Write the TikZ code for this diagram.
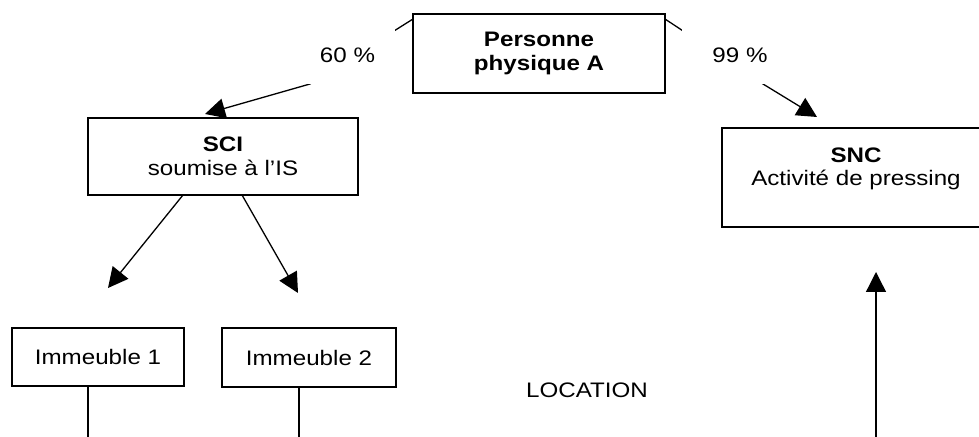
\documentclass[tikz,border=0pt]{standalone}
\usepackage{fontspec}
\setmainfont{Liberation Sans}[FakeStretch=1.15]
\usetikzlibrary{arrows.meta,positioning,calc}
\definecolor{LineColor}{HTML}{000000}

\begin{document}
\begin{tikzpicture}[x=0.5pt,y=-0.5pt,
    every node/.style={font=\fontsize{10.5}{11.8}\selectfont,inner sep=0pt,outer sep=0pt},
    boxthick/.style={rectangle,draw=LineColor,line width=1.35pt,align=center},
    boxthin/.style={rectangle,draw=LineColor,line width=0.65pt,align=center},
    pct/.style={rectangle,fill=white,minimum height=29pt},
    arr/.style={-{Triangle[length=10pt,width=10pt]},line width=0.65pt,LineColor},
    plain/.style={line width=0.65pt,LineColor}]
  \useasboundingbox (0,0) rectangle (979,437);
  \clip (0,0) rectangle (979,437);
        \node[boxthick,minimum width=126pt,minimum height=39.5pt] (pers) at (539,53.5)
          {\textbf{Personne}\\\textbf{physique A}};
        \node[boxthick,minimum width=135pt,minimum height=38.5pt] (sci) at (223,156.5)
          {\textbf{SCI}\\soumise à l’IS};
        \node[boxthick,minimum width=134pt,minimum height=49.5pt,text depth=11pt] (snc) at (856,177.5)
          {\textbf{SNC}\\Activité de pressing};
        \node[boxthin,minimum width=86pt,minimum height=29pt] (imm1) at (98,357)
          {Immeuble 1};
        \node[boxthin,minimum width=87pt,minimum height=29.5pt] (imm2) at (309,357.5)
          {Immeuble 2};
        \node (loc) at (587,390) {LOCATION};
        \coordinate (bendL) at (310,84);
        \coordinate (tipL) at (205,114);
        \coordinate (bendR) at (763,84);
        \coordinate (tipR) at (817,117);
        \coordinate (tip1) at (108,288);
        \coordinate (tip2) at (298,293);
        \coordinate (foot1) at (88,437);
        \coordinate (foot2) at (299,437);
        \coordinate (footS) at (876,437);
        \coordinate (tipS) at (876,272);
        \draw[arr] ($(pers.north west)+(0,5)$)--(bendL)--(tipL);
        \draw[arr] ($(pers.north east)+(0,5)$)--(bendR)--(tipR);
        \draw[arr] ($(sci.south)+(-40,0)$)--(tip1);
        \draw[arr] ($(sci.south)+(19,0)$)--(tip2);
        \draw[plain] (imm1.south -| foot1)--(foot1);
        \draw[plain] (imm2.south -| foot2)--(foot2);
        \draw[arr] (footS)--(tipS);
        \node[pct,minimum width=47.5pt] (pctL) at (347.5,55) {60~\%};
        \node[pct,minimum width=58pt] (pctR) at (740,55) {99~\%};
      \end{tikzpicture}
\end{document}
